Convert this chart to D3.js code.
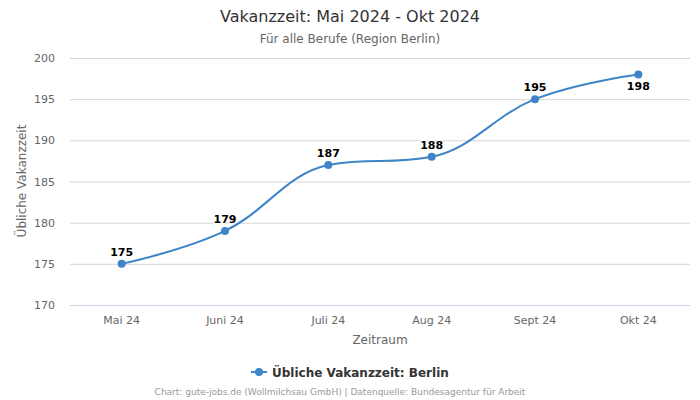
<!DOCTYPE html>
<html><head><meta charset="utf-8">
<script src="https://cdn.jsdelivr.net/npm/d3@7"></script>
<style>body{margin:0;background:#fff;font-family:"DejaVu Sans",sans-serif;}</style>
</head><body>
<svg id="c" width="700" height="400"></svg>
<script>
const categories = ["Mai 24","Juni 24","Juli 24","Aug 24","Sept 24","Okt 24"];
const values = [175,179,187,188,195,198];
const yTicks = [170,175,180,185,190,195,200];
const seriesName = "Übliche Vakanzzeit: Berlin";
const color = "#3d85c6";

const svg = d3.select("#c");
const L=70,R=690,T=58,B=305;
const x = d3.scaleBand().domain(categories).range([L,R]);
const y = d3.scaleLinear().domain([170,200]).range([B,T]);

svg.append("text").attr("x",350).attr("y",22).attr("text-anchor","middle")
  .attr("font-size",16).attr("fill","#333").text("Vakanzzeit: Mai 2024 - Okt 2024");
svg.append("text").attr("x",350).attr("y",43).attr("text-anchor","middle")
  .attr("font-size",12).attr("fill","#666").text("Für alle Berufe (Region Berlin)");

// grid
svg.append("g").selectAll("line").data(yTicks.filter(d=>d!==170)).join("line")
  .attr("x1",L).attr("x2",R).attr("y1",d=>y(d)+0.5).attr("y2",d=>y(d)+0.5)
  .attr("stroke","#d6d6d6").attr("stroke-width",1);
svg.append("line").attr("x1",L).attr("x2",R).attr("y1",B+0.5).attr("y2",B+0.5)
  .attr("stroke","#ccd6eb");

// y labels
svg.append("g").selectAll("text").data(yTicks).join("text")
  .attr("x",55).attr("y",d=>y(d)+4).attr("text-anchor","end")
  .attr("font-size",11).attr("fill","#666").text(d=>d);
// x labels
svg.append("g").selectAll("text").data(categories).join("text")
  .attr("x",d=>x(d)+x.bandwidth()/2).attr("y",324).attr("text-anchor","middle")
  .attr("font-size",11).attr("fill","#666").text(d=>d);

svg.append("text").attr("x",380).attr("y",344).attr("text-anchor","middle")
  .attr("font-size",12).attr("fill","#666").text("Zeitraum");
svg.append("text").attr("transform","translate(26,181) rotate(-90)").attr("text-anchor","middle")
  .attr("font-size",12).attr("fill","#666").text("Übliche Vakanzzeit");

// spline (Highcharts-style)
const pts = values.map((v,i)=>({x:x(categories[i])+x.bandwidth()/2,y:y(v),v}));
function splinePath(p){
  const s=1.5,den=2.5;
  let d=`M${p[0].x},${p[0].y}`;
  for(let i=1;i<p.length;i++){
    const cur=p[i],last=p[i-1],next=p[i+1];
    let lcx=cur.x,lcy=cur.y;
    if(next){
      lcx=(s*cur.x+last.x)/den; lcy=(s*cur.y+last.y)/den;
      let rcx=(s*cur.x+next.x)/den, rcy=(s*cur.y+next.y)/den;
      const corr=((rcy-lcy)*(rcx-cur.x))/(rcx-lcx)+cur.y-rcy;
      lcy+=corr; rcy+=corr;
      if(lcy>last.y&&lcy>cur.y){lcy=Math.max(last.y,cur.y);rcy=2*cur.y-lcy;}
      else if(lcy<last.y&&lcy<cur.y){lcy=Math.min(last.y,cur.y);rcy=2*cur.y-lcy;}
      if(rcy>next.y&&rcy>cur.y){rcy=Math.max(next.y,cur.y);lcy=2*cur.y-rcy;}
      else if(rcy<next.y&&rcy<cur.y){rcy=Math.min(next.y,cur.y);lcy=2*cur.y-rcy;}
      cur.rcx=rcx;cur.rcy=rcy;
    }
    const a=last.rcx!==undefined?last.rcx:last.x, b=last.rcy!==undefined?last.rcy:last.y;
    d+=`C${a},${b},${lcx},${lcy},${cur.x},${cur.y}`;
  }
  return d;
}
svg.append("path").attr("d",splinePath(pts)).attr("fill","none")
  .attr("stroke",color).attr("stroke-width",2);
svg.append("g").selectAll("circle").data(pts).join("circle")
  .attr("cx",d=>d.x).attr("cy",d=>d.y).attr("r",4).attr("fill",color);

// data labels
svg.append("g").selectAll("text").data(pts).join("text")
  .attr("x",d=>d.x).attr("y",d=>(d.y-20<T)?d.y+16:d.y-8)
  .attr("text-anchor","middle").attr("font-size",11).attr("font-weight","bold")
  .attr("fill","#000").attr("stroke","#fff").attr("stroke-width",2).attr("paint-order","stroke")
  .text(d=>d.v);

// legend
svg.append("line").attr("x1",251).attr("x2",267).attr("y1",372).attr("y2",372)
  .attr("stroke",color).attr("stroke-width",2);
svg.append("circle").attr("cx",259).attr("cy",372).attr("r",4).attr("fill",color);
svg.append("text").attr("x",272).attr("y",377).attr("font-size",12).attr("font-weight","bold")
  .attr("fill","#333").text(seriesName);

svg.append("text").attr("x",340).attr("y",395).attr("text-anchor","middle")
  .attr("font-size",9).attr("fill","#999")
  .text("Chart: gute-jobs.de (Wollmilchsau GmbH) | Datenquelle: Bundesagentur für Arbeit");
</script>
</body></html>
